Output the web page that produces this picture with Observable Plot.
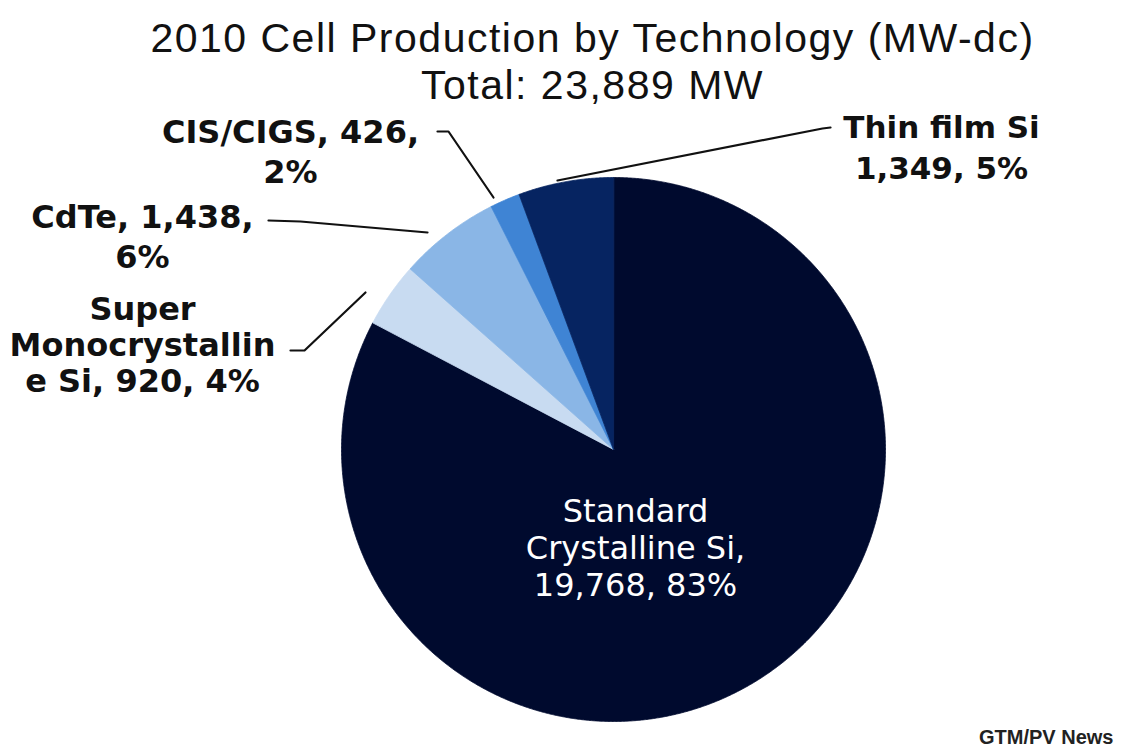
<!DOCTYPE html>
<html><head><meta charset="utf-8">
<script src="https://cdn.jsdelivr.net/npm/d3@7"></script>
<script src="https://cdn.jsdelivr.net/npm/@observablehq/plot@0.6"></script>
<style>
body{margin:0;background:#fff;}
#title{height:100px;box-sizing:border-box;padding-top:15px;padding-left:64px;text-align:center;font-family:"Liberation Sans",Arial,sans-serif;font-size:41px;letter-spacing:1.5px;line-height:47px;color:#111;width:1121px;overflow:visible;}
#chart svg{display:block;}
</style></head><body>
<div id="title"><div>2010 Cell Production by Technology (MW-dc)</div><div>Total: 23,889 MW</div></div>
<div id="chart"></div>
<script>
// ---- data ----
const categories = ["Standard Crystalline Si", "Super Monocrystalline Si", "CdTe", "CIS/CIGS", "Thin film Si"];
const values = [19768, 920, 1438, 426, 1349];
const percents = [83, 4, 6, 2, 5];
const labelTexts = [
  "Standard\nCrystalline Si,\n19,768, 83%",
  "Super\nMonocrystallin\ne Si, 920, 4%",
  "CdTe, 1,438,\n6%",
  "CIS/CIGS, 426,\n2%",
  "Thin film Si\n1,349, 5%"
];
const colors = ["#000a2e", "#c8dbf1", "#8ab6e6", "#3f84d4", "#062461"];
const source = "GTM/PV News";

// ---- layout (pixel positions in page coords) ----
const W = 1121, H = 651, TOP = 100;
const CX = 613, CY = 449, R = 272;
const labelLayout = [
  {x: 635, yLast: 595, lh: 1.15, size: 32, weight: "normal", color: "white"},
  {x: 142, yLast: 391, lh: 1.11, size: 32, weight: "bold", color: "#111"},
  {x: 142, yLast: 267, lh: 1.22, size: 32, weight: "bold", color: "#111"},
  {x: 290, yLast: 182, lh: 1.25, size: 32, weight: "bold", color: "#111"},
  {x: 941, yLast: 178, lh: 1.32, size: 31, weight: "bold", color: "#111"}
];
const leaderLayout = [
  null,
  [[290,350],[304,350],[365,292]],
  [[268,220],[300,221],[427,232]],
  [[437,131],[448,131],[493,197]],
  [[557,180],[822,128],[830,127]]
];

// ---- build pie polygons from values ----
const table = categories.map((c, i) => ({name: c, value: values[i], pct: percents[i], label: labelTexts[i], color: colors[i]}));
const arcs = d3.pie().sort(null).value(d => d.value)(table);
const slicePts = arcs.map(a => {
  const pts = [{x: CX, y: CY - TOP}];
  const steps = Math.max(2, Math.ceil((a.endAngle - a.startAngle) / 0.005));
  for (let k = 0; k <= steps; k++) {
    const t = a.startAngle + (a.endAngle - a.startAngle) * k / steps;
    pts.push({x: CX + R * Math.sin(t), y: CY - TOP - R * Math.cos(t)});
  }
  return pts;
});

const marks = [];
arcs.forEach((a, i) => {
  marks.push(Plot.line(slicePts[i], {x: "x", y: "y", curve: "linear-closed", fill: a.data.color, stroke: a.data.color, strokeWidth: 0.8}));
});
leaderLayout.forEach(pl => {
  if (!pl) return;
  marks.push(Plot.line(pl.map(([x, y]) => ({x, y: y - TOP})), {x: "x", y: "y", stroke: "#111", strokeWidth: 2.2}));
});
table.forEach((d, i) => {
  const L = labelLayout[i];
  marks.push(Plot.text([d], {
    x: () => L.x, y: () => L.yLast - TOP, text: "label",
    fontFamily: "DejaVu Sans", fontSize: L.size, fontWeight: L.weight, fill: L.color,
    lineAnchor: "bottom", lineHeight: L.lh, textAnchor: "middle"
  }));
});
marks.push(Plot.text([source], {
  frameAnchor: "bottom-right", dx: -8, dy: -8, text: d => d,
  fontFamily: "Liberation Sans", fontSize: 20, fontWeight: "bold", fill: "#222", lineAnchor: "bottom", textAnchor: "end"
}));

const chart = Plot.plot({
  width: W, height: H, margin: 0,
  x: {domain: [0, W], range: [0, W], axis: null},
  y: {domain: [0, H], range: [0, H], axis: null},
  style: {background: "white", overflow: "visible"},
  marks
});
document.getElementById("chart").append(chart);
</script>
</body></html>
